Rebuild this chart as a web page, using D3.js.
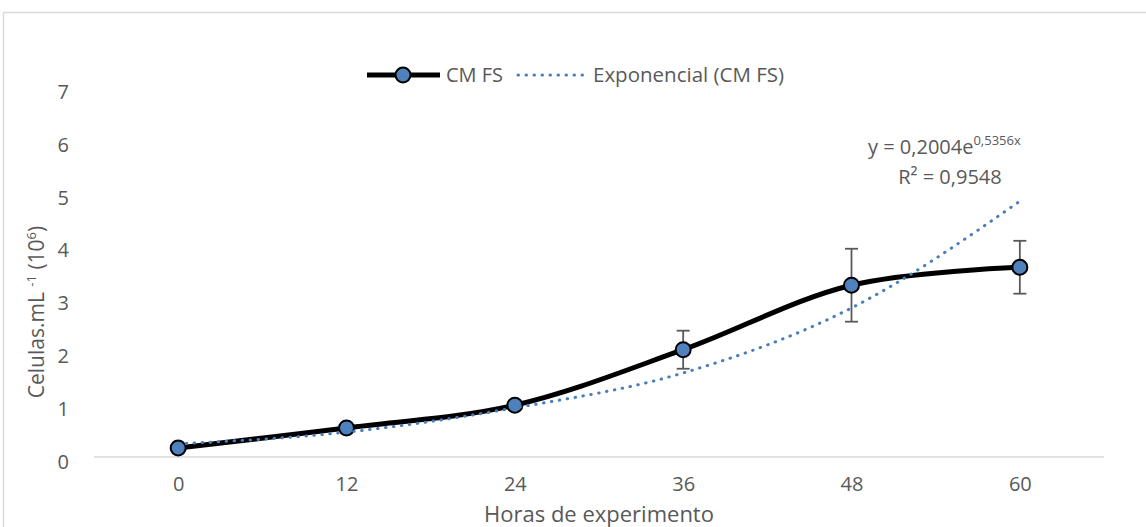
<!DOCTYPE html>
<html>
<head>
<meta charset="utf-8">
<script src="https://cdn.jsdelivr.net/npm/d3@7"></script>
<style>
  body { margin: 0; background: #fff; }
  text { font-family: "Open Sans", "Liberation Sans", sans-serif; fill: #595959; }
</style>
</head>
<body>
<div id="chart"></div>
<script>
// data
const hours = [0, 12, 24, 36, 48, 60];
const cells = [0.17, 0.55, 0.98, 2.03, 3.25, 3.59];
const cellsErr = [0.02, 0.03, 0.04, 0.36, 0.69, 0.5];
const trend = [0.25, 0.47, 0.93, 1.59, 2.82, 4.84];
const yTicks = [0, 1, 2, 3, 4, 5, 6, 7];
const seriesName = 'CM FS';
const trendName = 'Exponencial (CM FS)';

const width = 1146, height = 527;
const margin = { top: 87, right: 42, bottom: 70, left: 94 };

const svg = d3.select('#chart')
    .append('svg')
    .attr('width', width)
    .attr('height', height);

// chart border
svg.append('rect')
    .attr('x', 3.5)
    .attr('y', 12.5)
    .attr('width', width + 10)
    .attr('height', height + 10)
    .attr('fill', 'none')
    .attr('stroke', '#d9d9d9')
    .attr('stroke-width', 1.5);

const x = d3.scalePoint()
    .domain(hours)
    .range([margin.left, width - margin.right])
    .padding(0.5);

const y = d3.scaleLinear()
    .domain([0, 7])
    .range([height - margin.bottom, margin.top]);

// y axis (labels only)
const yAxis = svg.append('g')
    .attr('transform', `translate(${margin.left - 22}, 5)`)
    .call(d3.axisLeft(y).tickValues(yTicks).tickSize(0).tickFormat(d3.format('d')));
yAxis.select('.domain').remove();
yAxis.selectAll('text')
    .style('font-size', '20px')
    .style('fill', '#595959')
    .style('font-family', '"Open Sans", sans-serif');

// baseline
svg.append('line')
    .attr('x1', margin.left)
    .attr('x2', width - margin.right)
    .attr('y1', y(0))
    .attr('y2', y(0))
    .attr('stroke', '#d9d9d9')
    .attr('stroke-width', 1.5);

// x axis labels
const xAxis = svg.append('g')
    .attr('transform', `translate(0, ${y(0) + 17})`)
    .call(d3.axisBottom(x).tickSize(0));
xAxis.select('.domain').remove();
xAxis.selectAll('text')
    .style('font-size', '20px')
    .style('fill', '#595959')
    .style('font-family', '"Open Sans", sans-serif');

// axis titles
svg.append('text')
    .attr('x', 599)
    .attr('y', 522)
    .attr('text-anchor', 'middle')
    .style('font-size', '22px')
    .text('Horas de experimento');

const yTitle = svg.append('text')
    .attr('transform', 'translate(44, 312) rotate(-90)')
    .attr('text-anchor', 'middle')
    .style('font-size', '21px');
yTitle.append('tspan').text('Celulas.mL ');
yTitle.append('tspan').attr('dy', -8).style('font-size', '13px').text('-1');
yTitle.append('tspan').attr('dy', 8).text(' (10');
yTitle.append('tspan').attr('dy', -8).style('font-size', '13px').text('6');
yTitle.append('tspan').attr('dy', 8).text(')');

const points = hours.map((h, i) => ({ h, v: cells[i], e: cellsErr[i], t: trend[i] }));

// error bars
const err = svg.append('g').attr('stroke', '#595959').attr('stroke-width', 1.8);
points.forEach(d => {
    err.append('line')
        .attr('x1', x(d.h)).attr('x2', x(d.h))
        .attr('y1', y(d.v - d.e)).attr('y2', y(d.v + d.e));
    [d.v - d.e, d.v + d.e].forEach(val => {
        err.append('line')
            .attr('x1', x(d.h) - 6.5).attr('x2', x(d.h) + 6.5)
            .attr('y1', y(val)).attr('y2', y(val));
    });
});

// main smoothed line
const line = d3.line()
    .x(d => x(d.h))
    .y(d => y(d.v))
    .curve(d3.curveCatmullRom.alpha(0.5));

svg.append('path')
    .datum(points)
    .attr('d', line)
    .attr('fill', 'none')
    .attr('stroke', '#000')
    .attr('stroke-width', 5)
    .attr('stroke-linejoin', 'round');

// markers
svg.selectAll('.marker')
    .data(points)
    .enter()
    .append('circle')
    .attr('class', 'marker')
    .attr('cx', d => x(d.h))
    .attr('cy', d => y(d.v))
    .attr('r', 7.5)
    .attr('fill', '#4f81bd')
    .attr('stroke', '#000')
    .attr('stroke-width', 2);

// exponential trendline
const trendLine = d3.line()
    .x(d => x(d.h))
    .y(d => y(d.t))
    .curve(d3.curveMonotoneX);

svg.append('path')
    .datum(points)
    .attr('d', trendLine)
    .attr('fill', 'none')
    .attr('stroke', '#4a7ebb')
    .attr('stroke-width', 3)
    .attr('stroke-linecap', 'round')
    .attr('stroke-dasharray', '0.5 7.5');

// legend
const legend = svg.append('g').attr('transform', 'translate(367, 75)');
legend.append('line')
    .attr('x1', 0).attr('x2', 73)
    .attr('stroke', '#000').attr('stroke-width', 5);
legend.append('circle')
    .attr('cx', 36).attr('r', 7.5)
    .attr('fill', '#4f81bd').attr('stroke', '#000').attr('stroke-width', 2);
legend.append('text')
    .attr('x', 79).attr('dy', '0.35em')
    .style('font-size', '20px')
    .text(seriesName);
legend.append('line')
    .attr('x1', 151).attr('x2', 220)
    .attr('stroke', '#4a7ebb').attr('stroke-width', 3)
    .attr('stroke-linecap', 'round')
    .attr('stroke-dasharray', '0.5 7.5');
legend.append('text')
    .attr('x', 226).attr('dy', '0.35em')
    .style('font-size', '20.5px')
    .text(trendName);

// trendline equation
const eq = svg.append('text')
    .attr('x', 868).attr('y', 154)
    .style('font-size', '20px');
eq.append('tspan').text('y = 0,2004e');
eq.append('tspan').attr('dy', -9).style('font-size', '13px').text('0,5356x');

const r2 = svg.append('text')
    .attr('x', 950).attr('y', 184)
    .attr('text-anchor', 'middle')
    .style('font-size', '20px');
r2.append('tspan').text('R² = 0,9548');
</script>
</body>
</html>
